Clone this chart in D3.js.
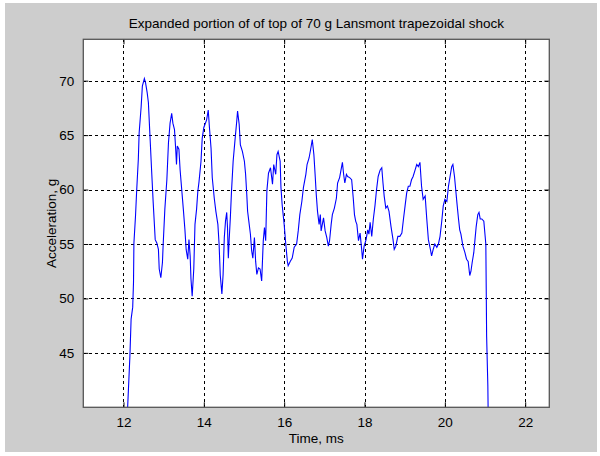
<!DOCTYPE html>
<html>
<head>
<meta charset="utf-8">
<script src="https://cdn.jsdelivr.net/npm/d3@7"></script>
<style>
  html, body { margin: 0; padding: 0; background: #ffffff; }
  svg { display: block; }
  text { font-family: "Liberation Sans", Arial, sans-serif; fill: #000; }
</style>
</head>
<body>
<div id="chart"></div>
<script>
const titleText = "Expanded portion of of top of 70 g Lansmont trapezoidal shock";
const xLabel = "Time, ms";
const yLabel = "Acceleration, g";
const xTicks = [12, 14, 16, 18, 20, 22];
const yTicks = [45, 50, 55, 60, 65, 70];
const xDomain = [11, 22.6];
const yDomain = [40, 73.8];

// time (ms)
const timeMs = [
  12.08, 12.16, 12.19, 12.23, 12.25, 12.26, 12.30, 12.33, 12.37, 12.39, 12.44, 12.47, 12.52, 12.55, 12.59, 12.62,
  12.66, 12.70, 12.74, 12.79, 12.83, 12.87, 12.89, 12.93, 12.97, 12.99, 13.03, 13.08, 13.12, 13.16, 13.20, 13.23,
  13.27, 13.30, 13.32, 13.34, 13.38, 13.41, 13.45, 13.49, 13.53, 13.56, 13.60, 13.63, 13.66, 13.68, 13.71, 13.75,
  13.78, 13.82, 13.85, 13.88, 13.93, 13.96, 14.00, 14.03, 14.07, 14.11, 14.14, 14.18, 14.21, 14.26, 14.30, 14.35,
  14.38, 14.41, 14.45, 14.48, 14.51, 14.54, 14.57, 14.59, 14.61, 14.63, 14.66, 14.69, 14.73, 14.78, 14.82, 14.84,
  14.88, 14.91, 14.96, 15.01, 15.04, 15.07, 15.09, 15.12, 15.16, 15.19, 15.22, 15.26, 15.29, 15.32, 15.36, 15.40,
  15.44, 15.48, 15.51, 15.54, 15.57, 15.61, 15.66, 15.71, 15.74, 15.79, 15.82, 15.85, 15.90, 15.92, 15.95, 16.00,
  16.04, 16.08, 16.10, 16.15, 16.20, 16.25, 16.31, 16.35, 16.39, 16.44, 16.48, 16.54, 16.57, 16.62, 16.66, 16.70,
  16.74, 16.77, 16.80, 16.83, 16.87, 16.90, 16.92, 16.95, 16.98, 17.02, 17.06, 17.10, 17.13, 17.17, 17.20, 17.25,
  17.30, 17.33, 17.38, 17.41, 17.45, 17.48, 17.51, 17.55, 17.58, 17.63, 17.68, 17.72, 17.75, 17.78, 17.81, 17.85,
  17.89, 17.93, 17.95, 17.99, 18.04, 18.08, 18.11, 18.14, 18.18, 18.22, 18.26, 18.30, 18.34, 18.39, 18.43, 18.46,
  18.49, 18.53, 18.57, 18.61, 18.66, 18.71, 18.74, 18.78, 18.83, 18.88, 18.93, 18.97, 19.01, 19.05, 19.09, 19.13,
  19.17, 19.21, 19.26, 19.30, 19.34, 19.38, 19.42, 19.46, 19.51, 19.55, 19.59, 19.64, 19.67, 19.71, 19.75, 19.80,
  19.84, 19.88, 19.92, 19.96, 20.00, 20.05, 20.09, 20.13, 20.17, 20.20, 20.24, 20.27, 20.30, 20.34, 20.37, 20.40,
  20.45, 20.50, 20.54, 20.58, 20.62, 20.65, 20.68, 20.72, 20.75, 20.78, 20.82, 20.85, 20.88, 20.92, 20.97, 21.02,
  21.03, 21.04, 21.07, 21.08
];
// acceleration (g)
const accelG = [
  38.0, 44.7, 48.1, 49.2, 51.5, 55.1, 57.6, 60.0, 62.8, 65.2, 67.6, 69.5, 70.2, 69.8, 68.9, 68.0,
  64.9, 61.8, 58.8, 55.4, 55.1, 54.5, 52.7, 51.9, 53.3, 55.1, 58.2, 60.9, 64.3, 66.1, 67.0, 66.1,
  65.5, 63.7, 62.3, 64.0, 63.7, 61.8, 60.0, 58.2, 56.3, 54.5, 53.6, 55.4, 53.9, 51.8, 50.2, 52.7,
  56.8, 58.2, 59.8, 60.7, 62.6, 64.7, 65.7, 66.0, 66.4, 67.3, 65.7, 63.8, 61.1, 59.2, 58.0, 56.8,
  55.0, 52.1, 50.4, 52.2, 55.6, 57.1, 57.9, 56.5, 53.7, 55.3, 57.4, 59.9, 62.6, 64.7, 66.3, 67.2,
  66.0, 64.1, 63.5, 62.6, 61.4, 59.5, 58.0, 57.1, 55.9, 54.4, 53.7, 55.6, 53.4, 52.2, 52.8, 52.7,
  51.6, 55.3, 56.5, 55.3, 59.9, 61.5, 62.0, 60.5, 62.3, 61.4, 63.2, 63.5, 62.6, 60.2, 58.6, 56.8,
  55.0, 53.4, 53.0, 53.4, 53.7, 54.7, 55.0, 56.2, 57.7, 58.9, 60.2, 61.4, 62.3, 62.9, 63.7, 64.6,
  63.2, 61.4, 59.5, 58.0, 56.8, 57.7, 56.2, 56.8, 57.4, 56.2, 55.6, 54.8, 55.3, 56.8, 57.7, 58.3,
  59.2, 60.6, 61.1, 61.7, 62.5, 61.4, 60.6, 61.4, 61.2, 61.1, 60.9, 59.2, 57.7, 57.1, 56.8, 55.3,
  56.0, 54.5, 53.6, 54.8, 55.4, 56.3, 55.9, 57.0, 55.7, 57.3, 58.5, 60.0, 61.2, 61.8, 62.0, 60.6,
  59.4, 58.3, 58.5, 58.0, 56.6, 55.4, 54.5, 54.8, 55.7, 55.7, 56.0, 57.3, 58.5, 59.7, 60.3, 60.3,
  60.9, 61.2, 61.8, 62.3, 62.1, 62.5, 60.3, 59.1, 59.4, 57.3, 55.4, 54.5, 53.9, 54.5, 55.0, 54.7,
  55.0, 55.7, 57.0, 58.5, 59.1, 58.9, 60.3, 61.2, 62.1, 62.3, 61.2, 60.0, 58.8, 57.3, 56.3, 55.9,
  54.8, 54.2, 53.6, 53.4, 52.1, 52.5, 53.3, 54.2, 55.4, 56.6, 57.7, 57.9, 57.3, 57.3, 57.1, 55.0,
  50.9, 46.5, 42.0, 38.9
];

const W = 600, H = 456;
const plot = { left: 83.3, right: 549.3, top: 39.3, bottom: 407.3 };

const svg = d3.select("#chart").append("svg")
  .attr("width", W).attr("height", H);

// figure background
svg.append("rect").attr("x", 5).attr("y", 3).attr("width", 592).attr("height", 449)
  .attr("fill", "#cdcdcd");

const x = d3.scaleLinear().domain(xDomain).range([plot.left, plot.right]);
const y = d3.scaleLinear().domain(yDomain).range([plot.bottom, plot.top]);

// axes area
svg.append("rect")
  .attr("x", plot.left).attr("y", plot.top)
  .attr("width", plot.right - plot.left).attr("height", plot.bottom - plot.top)
  .attr("fill", "#ffffff");

// grid lines
const grid = svg.append("g").attr("stroke", "#000").attr("stroke-width", 1)
  .attr("stroke-dasharray", "3,3").attr("shape-rendering", "crispEdges");
xTicks.forEach(t => {
  grid.append("line").attr("x1", Math.round(x(t)) + 0.5).attr("x2", Math.round(x(t)) + 0.5)
    .attr("y1", plot.top).attr("y2", plot.bottom);
});
yTicks.forEach(t => {
  grid.append("line").attr("y1", Math.round(y(t)) + 0.5).attr("y2", Math.round(y(t)) + 0.5)
    .attr("x1", plot.left).attr("x2", plot.right);
});

// data line
const clip = svg.append("clipPath").attr("id", "clip").append("rect")
  .attr("x", plot.left).attr("y", plot.top)
  .attr("width", plot.right - plot.left).attr("height", plot.bottom - plot.top);

const pts = timeMs.map((t, i) => [t, accelG[i]]);
svg.append("path").datum(pts)
  .attr("clip-path", "url(#clip)")
  .attr("fill", "none").attr("stroke", "#0000ff").attr("stroke-width", 1.1)
  .attr("d", d3.line().x(d => x(d[0])).y(d => y(d[1])));

// axes with inward ticks
const tickLen = 5;
const xAxisB = d3.axisBottom(x).tickValues(xTicks).tickSizeInner(-tickLen).tickSizeOuter(0).tickPadding(10).tickFormat(d3.format("d"));
const yAxisL = d3.axisLeft(y).tickValues(yTicks).tickSizeInner(-tickLen).tickSizeOuter(0).tickPadding(9).tickFormat(d3.format("d"));
const xAxisT = d3.axisTop(x).tickValues(xTicks).tickSizeInner(-tickLen).tickSizeOuter(0).tickFormat("");
const yAxisR = d3.axisRight(y).tickValues(yTicks).tickSizeInner(-tickLen).tickSizeOuter(0).tickFormat("");

function styleAxis(g) {
  g.select(".domain").remove();
  g.selectAll(".tick line").attr("stroke", "#000");
  g.selectAll(".tick text").attr("font-size", "13.5px").attr("font-family", "Liberation Sans, Arial, sans-serif").attr("fill", "#000");
}
svg.append("g").attr("transform", `translate(0,${plot.bottom})`).call(xAxisB).call(styleAxis);
svg.append("g").attr("transform", `translate(${plot.left},0)`).call(yAxisL).call(styleAxis);
svg.append("g").attr("transform", `translate(0,${plot.top})`).call(xAxisT).call(styleAxis);
svg.append("g").attr("transform", `translate(${plot.right},0)`).call(yAxisR).call(styleAxis);

// box
svg.append("rect")
  .attr("x", plot.left).attr("y", plot.top)
  .attr("width", plot.right - plot.left).attr("height", plot.bottom - plot.top)
  .attr("fill", "none").attr("stroke", "#555").attr("stroke-width", 1.3);

// title and labels
svg.append("text").attr("x", (plot.left + plot.right) / 2).attr("y", 28)
  .attr("text-anchor", "middle").attr("font-size", "13.5px").text(titleText);
svg.append("text").attr("x", (plot.left + plot.right) / 2).attr("y", 443)
  .attr("text-anchor", "middle").attr("font-size", "13.5px").text(xLabel);
svg.append("text").attr("transform", `translate(56,${(plot.top + plot.bottom) / 2}) rotate(-90)`)
  .attr("text-anchor", "middle").attr("font-size", "13.5px").text(yLabel);
</script>
</body>
</html>
